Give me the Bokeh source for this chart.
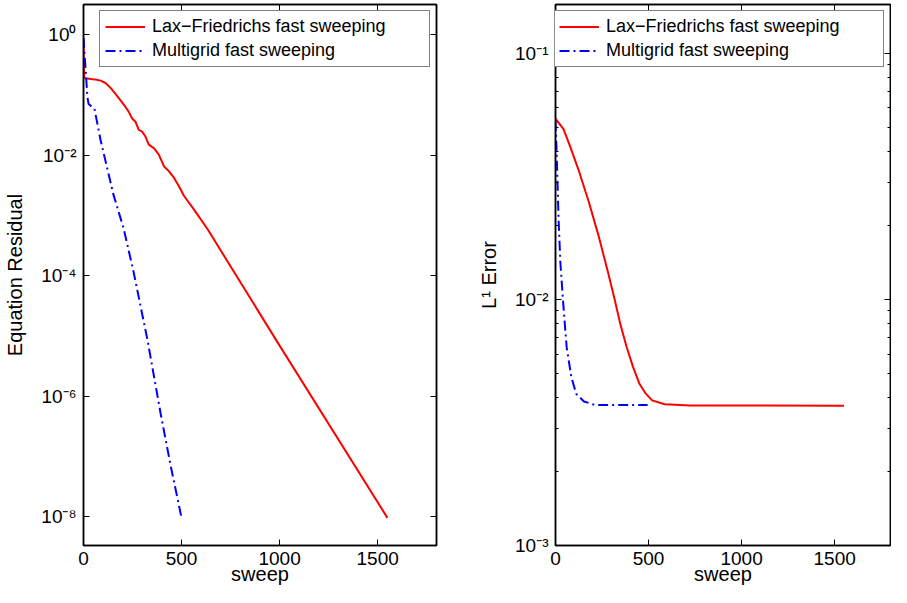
from bokeh.plotting import figure
from bokeh.models import (LogAxis, LinearAxis, FixedTicker, Legend, LegendItem,
                          Range1d, CustomJSTickFormatter)
from bokeh.layouts import row
from bokeh.embed import file_html
from bokeh.resources import INLINE

FONT = "Liberation Sans"

# ---------------- data ----------------
sweep_ticks = [0, 500, 1000, 1500]
series_labels = ["Lax\u2212Friedrichs fast sweeping", "Multigrid fast sweeping"]

# Left panel: equation residual
res_lf_sweep = [0, 3, 10, 36, 61, 87, 112, 138, 163, 189, 214, 231, 248, 265,
                282, 299, 316, 333, 359, 384, 410, 435, 461, 486, 512, 561,
                633, 1000, 1550]
res_lf_value = [0.85, 0.20, 0.190, 0.185, 0.181, 0.174, 0.159, 0.132, 0.105,
                0.0818, 0.0636, 0.0526, 0.0409, 0.0361, 0.0264, 0.0247, 0.0205,
                0.0150, 0.0132, 0.0103, 0.0066, 0.00547, 0.00425, 0.0031,
                0.00213, 0.00129, 5.9e-4, 6.9e-6, 9.5e-9]
res_mg_sweep = [0, 20, 26, 56, 87, 122, 153, 204, 255, 327, 393, 444, 500]
res_mg_value = [0.89, 0.093, 0.071, 0.059, 0.018, 0.0059, 0.0022, 6.2e-4,
                1.17e-4, 8.3e-6, 5.2e-7, 7.1e-8, 9.5e-9]
res_ticks = [1e-8, 1e-6, 1e-4, 1e-2, 1.0]
res_tick_labels = ["10\u207b\u2078", "10\u207b\u2076", "10\u207b\u2074",
                   "10\u207b\u00b2", "10\u2070"]
res_range = (3.3e-9, 3.2)

# Right panel: L1 error
err_lf_sweep = [0, 43, 77, 128, 179, 230, 281, 315, 349, 383, 417, 451, 485,
                519, 587, 723, 1550]
err_lf_value = [0.0543, 0.0492, 0.0422, 0.0329, 0.0249, 0.0183, 0.0130, 0.0102,
                0.0079, 0.00638, 0.00531, 0.00454, 0.00414, 0.00389, 0.00375,
                0.00371, 0.00370]
err_mg_sweep = [0, 5, 17, 26, 43, 60, 85, 111, 153, 214, 495]
err_mg_value = [0.0532, 0.042, 0.0207, 0.0142, 0.0093, 0.0064, 0.00484,
                0.00414, 0.00385, 0.00372, 0.00372]
err_ticks = [1e-3, 1e-2, 1e-1]
err_tick_labels = ["10\u207b\u00b3", "10\u207b\u00b2", "10\u207b\u00b9"]
err_minor = [k * 10.0 ** e for e in (-3, -2, -1) for k in range(2, 10)
             if k * 10.0 ** e < 0.158]
err_range = (1e-3, 0.158)


def style_axis(ax):
    ax.major_label_text_font = FONT
    ax.major_label_text_font_size = "19px"
    ax.major_label_text_color = "black"
    ax.axis_label_text_font = FONT
    ax.axis_label_text_font_size = "20px"
    ax.axis_label_text_font_style = "normal"
    ax.axis_label_text_color = "black"
    ax.axis_line_color = "black"
    ax.axis_line_width = 1.5
    ax.major_tick_line_color = "black"
    ax.minor_tick_line_color = "black"
    ax.major_tick_in = 6
    ax.major_tick_out = 0
    ax.minor_tick_in = 3
    ax.minor_tick_out = 0


def blank_axis(ax):
    style_axis(ax)
    ax.formatter = CustomJSTickFormatter(code="return '';")
    ax.major_label_text_font_size = "1px"
    ax.major_label_standoff = 0


def make_panel(width, border_left, border_right, yrange, yticks, ylabels,
               yminor, ylabel, lf_x, lf_y, mg_x, mg_y):
    p = figure(width=width, height=587, x_range=Range1d(0, 1800),
               y_range=Range1d(*yrange), y_axis_type="log",
               output_backend="svg", toolbar_location=None,
               min_border_left=border_left, min_border_right=border_right,
               min_border_top=4, min_border_bottom=0)
    p.outline_line_color = "black"
    p.outline_line_width = 1.5
    p.xgrid.visible = False
    p.ygrid.visible = False
    p.background_fill_color = "white"
    p.border_fill_color = "white"

    xa = p.xaxis[0]
    style_axis(xa)
    xa.ticker = FixedTicker(ticks=sweep_ticks)
    xa.axis_label = "sweep"
    xa.major_label_standoff = 6
    xa.axis_label_standoff = -5

    ya = p.yaxis[0]
    style_axis(ya)
    ya.ticker = FixedTicker(ticks=yticks, minor_ticks=yminor)
    ya.major_label_overrides = {t: l for t, l in zip(yticks, ylabels)}
    ya.axis_label = ylabel
    ya.major_label_standoff = 7
    ya.axis_label_standoff = 12

    top = LinearAxis(ticker=FixedTicker(ticks=sweep_ticks))
    blank_axis(top)
    p.add_layout(top, "above")
    right = LogAxis(ticker=FixedTicker(ticks=yticks, minor_ticks=yminor))
    blank_axis(right)
    p.add_layout(right, "right")

    r1 = p.line(lf_x, lf_y, line_color="#ff0000", line_width=2)
    r2 = p.line(mg_x, mg_y, line_color="#0000ff", line_width=2,
                line_dash="10 4 2 4")

    legend = Legend(items=[LegendItem(label=series_labels[0], renderers=[r1]),
                           LegendItem(label=series_labels[1], renderers=[r2])],
                    location="top_right")
    legend.border_line_color = "black"
    legend.border_line_width = 1.2
    legend.background_fill_color = "white"
    legend.background_fill_alpha = 1.0
    legend.label_text_font = FONT
    legend.label_text_font_size = "18px"
    legend.label_text_color = "black"
    legend.glyph_width = 40
    legend.glyph_height = 21
    legend.label_height = 21
    legend.label_width = 272
    legend.label_standoff = 7
    legend.padding = 5
    legend.spacing = 3
    legend.margin = 6
    p.add_layout(legend)
    return p


p1 = make_panel(465, 83, 29, res_range, res_ticks, res_tick_labels, [],
                "Equation Residual", res_lf_sweep, res_lf_value,
                res_mg_sweep, res_mg_value)
p2 = make_panel(426, 90, 1, err_range, err_ticks, err_tick_labels, err_minor,
                "L\u00b9 Error", err_lf_sweep, err_lf_value,
                err_mg_sweep, err_mg_value)

layout = row(p1, p2)
open("out.html", "w").write(file_html(layout, INLINE))
